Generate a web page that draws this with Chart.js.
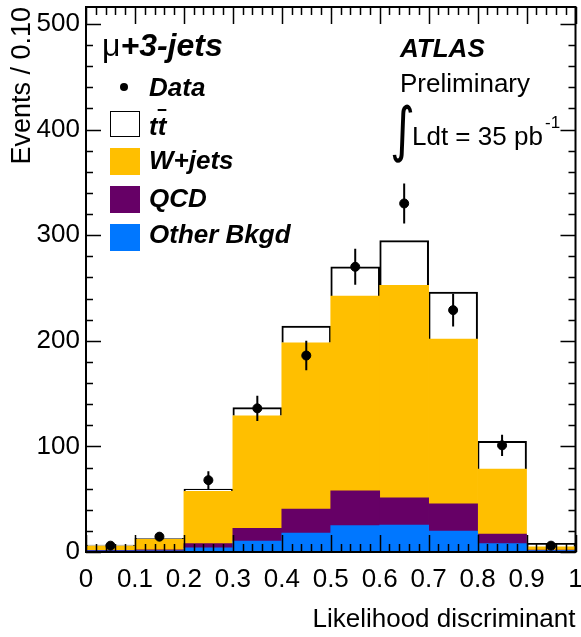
<!DOCTYPE html>
<html lang="en">
<head>
<meta charset="UTF-8">
<title>Likelihood discriminant mu+3-jets</title>
<script src="https://cdn.jsdelivr.net/npm/chart.js"></script>
<style>
  body { margin: 0; background: #fff; }
  #wrap { position: relative; width: 581px; height: 637px; font-family: "Liberation Sans", Arial, sans-serif; color: #000; }
  #wrap canvas { position: absolute; left: 0; top: 0; }
  .lbl { position: absolute; line-height: 1; white-space: nowrap; }
  .bi { font-weight: bold; font-style: italic; }
  .box { position: absolute; width: 30px; height: 27px; box-sizing: border-box; }
</style>
</head>
<body>
<div id="wrap">
  <canvas id="grafico" width="581" height="637"></canvas>

  <div class="lbl" style="left:102px; top:29px; font-size:32px;"><span>μ</span><span class="bi">+3-jets</span></div>

  <div style="position:absolute; left:120px; top:83px; width:8px; height:8px; border-radius:50%; background:#000;"></div>
  <div class="lbl bi" style="left:149px; top:74px; font-size:26px;">Data</div>

  <div class="box" style="left:110px; top:111px; height:26px; border:1.5px solid #000; background:#fff;"></div>
  <div class="lbl bi" style="left:149px; top:113px; font-size:26px;">t<span style="text-decoration:overline">t</span></div>

  <div class="box" style="left:110px; top:148px; background:#ffbf00;"></div>
  <div class="lbl bi" style="left:149px; top:147px; font-size:26px;">W+jets</div>

  <div class="box" style="left:110px; top:186px; background:#660066;"></div>
  <div class="lbl bi" style="left:149px; top:185px; font-size:26px;">QCD</div>

  <div class="box" style="left:110px; top:224px; background:#0077ff;"></div>
  <div class="lbl bi" style="left:149px; top:221px; font-size:26px;">Other Bkgd</div>

  <div class="lbl bi" style="left:400px; top:35px; font-size:26px;">ATLAS</div>
  <div class="lbl" style="left:400px; top:70px; font-size:26px;">Preliminary</div>
  <div class="lbl" style="left:390px; top:99px; font-size:60px; font-family:'DejaVu Sans'; transform:scaleX(0.8); transform-origin:0 0;">∫</div>
  <div class="lbl" style="left:412px; top:123px; font-size:26px;">Ldt = 35 pb</div>
  <div class="lbl" style="left:545px; top:114px; font-size:17px;">-1</div>
</div>

<script>
// bins of the likelihood discriminant, width 0.10
var binCenters = [0.05, 0.15, 0.25, 0.35, 0.45, 0.55, 0.65, 0.75, 0.85, 0.95]

// stacked MC contributions (events per bin), bottom to top
var otherBkgd = [1, 1, 4, 10.4, 18, 25, 25.6, 19.9, 7.9, 1.3]
var qcd       = [0.5, 1, 4, 12, 22.7, 32.8, 25.8, 25.6, 9.1, 0.5]
var wJets     = [4.2, 10, 49.5, 106.6, 157.3, 184.6, 201.1, 156.2, 61.6, 3.2]
var ttbar     = [0.8, 1, 2, 7.7, 16, 27.6, 42.3, 44.3, 26.2, 3.2]

// data points and their errors
var dados    = [6, 14.5, 68, 136, 186, 270, 330, 229, 101, 6]
var dadosErr = [2.5, 4, 8.5, 12, 14, 17, 19, 15.5, 10, 2.5]

var yMax = 516

function pontos(valores) {
  return binCenters.map(function (x, i) { return { x: x, y: valores[i] } })
}

// frame with inward ticks (ROOT style) and error bars of the data
const molduraPlugin = {
  id: 'moldura',
  afterDatasetsDraw(chart) {
    const ctx = chart.ctx
    const a = chart.chartArea
    const x = chart.scales.x
    const y = chart.scales.y
    ctx.save()
    ctx.strokeStyle = '#000'

    // error bars
    ctx.lineWidth = 2
    ctx.beginPath()
    for (var i = 0; i < dados.length; i++) {
      var px = x.getPixelForValue(binCenters[i])
      ctx.moveTo(px, y.getPixelForValue(dados[i] - dadosErr[i]))
      ctx.lineTo(px, y.getPixelForValue(dados[i] + dadosErr[i]))
    }
    ctx.stroke()

    ctx.lineWidth = 1.5
    ctx.beginPath()
    for (var k = 0; k <= 50; k++) {
      var px = Math.round(x.getPixelForValue(k / 50)) + 0.5
      var len = (k % 5 === 0) ? 17 : 8
      ctx.moveTo(px, a.bottom); ctx.lineTo(px, a.bottom - len)
      ctx.moveTo(px, a.top); ctx.lineTo(px, a.top + len)
    }
    for (var v = 0; v <= yMax; v += 20) {
      var py = Math.round(y.getPixelForValue(v)) + 0.5
      var len = (v % 100 === 0) ? 15 : 7
      ctx.moveTo(a.left, py); ctx.lineTo(a.left + len, py)
      ctx.moveTo(a.right, py); ctx.lineTo(a.right - len, py)
    }
    ctx.stroke()

    ctx.lineWidth = 2
    ctx.strokeRect(a.left, a.top, a.right - a.left, a.bottom - a.top)
    ctx.restore()
  }
}

const fonte = "'Liberation Sans', Arial, sans-serif"

new Chart(document.getElementById('grafico'), {
  type: 'bar',
  data: {
    datasets: [
      { label: 'Other Bkgd', data: pontos(otherBkgd), backgroundColor: '#0077ff', stack: 'mc', order: 1 },
      { label: 'QCD', data: pontos(qcd), backgroundColor: '#660066', stack: 'mc', order: 1 },
      { label: 'W+jets', data: pontos(wJets), backgroundColor: '#ffbf00', stack: 'mc', order: 1 },
      { label: 'ttbar', data: pontos(ttbar), backgroundColor: '#ffffff', borderColor: '#000', borderWidth: 2, borderSkipped: 'bottom', stack: 'mc', order: 1 },
      { type: 'scatter', label: 'Data', data: pontos(dados), backgroundColor: '#000', borderColor: '#000', pointRadius: 4.5, order: 0 }
    ]
  },
  options: {
    responsive: false,
    animation: false,
    barPercentage: 1,
    categoryPercentage: 1,
    layout: { padding: { top: 7, right: 5, left: 0, bottom: 0 } },
    plugins: { legend: { display: false }, tooltip: { enabled: false } },
    scales: {
      x: {
        type: 'linear', min: 0, max: 1, offset: false, stacked: true,
        grid: { display: false, drawTicks: false }, border: { display: false },
        ticks: {
          stepSize: 0.1, padding: 12, maxRotation: 0, autoSkip: false, color: '#000',
          font: { family: fonte, size: 26 },
          callback: function (v) { return String(Math.round(v * 10) / 10) }
        },
        title: { display: true, text: 'Likelihood discriminant', align: 'end', color: '#000', font: { family: fonte, size: 26 }, padding: { top: 0, bottom: 2 } },
        afterFit: function (s) { s.height = 85; s.paddingLeft = 0; s.paddingRight = 0 }
      },
      y: {
        min: 0, max: yMax, stacked: true,
        grid: { display: false, drawTicks: false }, border: { display: false },
        ticks: { stepSize: 100, includeBounds: false, padding: 6, color: '#000', font: { family: fonte, size: 26 } },
        title: { display: true, text: 'Events / 0.10', align: 'end', color: '#000', font: { family: fonte, size: 27 }, padding: { top: 6, bottom: 0 } },
        afterFit: function (s) { s.width = 86; s.paddingTop = 0; s.paddingBottom = 0 }
      }
    }
  },
  plugins: [molduraPlugin]
})
</script>
</body>
</html>
